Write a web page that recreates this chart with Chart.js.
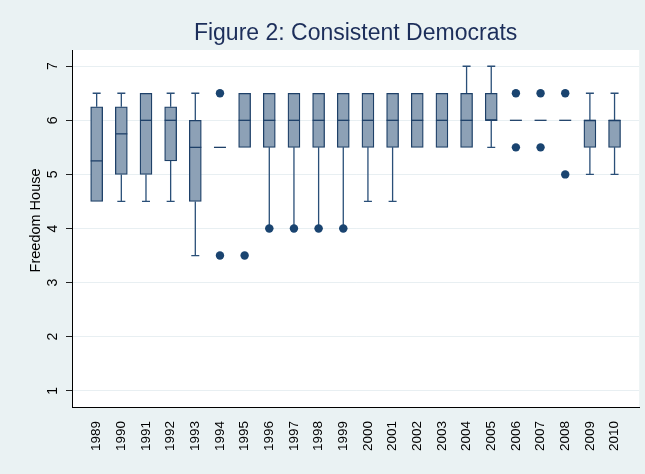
<!DOCTYPE html>
<html>
<head>
<meta charset="utf-8">
<script src="https://cdn.jsdelivr.net/npm/chart.js@4"></script>
<style>
  html, body { margin: 0; padding: 0; background: #eaf2f3; }
</style>
</head>
<body>
<canvas id="fhChart" width="645" height="474"></canvas>
<script>
// Freedom House score by year, consistent democrats (box plot summary)
const years = [1989, 1990, 1991, 1992, 1993, 1994, 1995, 1996, 1997, 1998, 1999,
  2000, 2001, 2002, 2003, 2004, 2005, 2006, 2007, 2008, 2009, 2010];
const lowerWhisker = [4.5, 4.5, 4.5, 4.5, 3.5, 5.5, 5.5, 4, 4, 4, 4,
  4.5, 4.5, 5.5, 5.5, 5.5, 5.5, 6, 6, 6, 5, 5];
const lowerQuartile = [4.5, 5, 5, 5.25, 4.5, 5.5, 5.5, 5.5, 5.5, 5.5, 5.5,
  5.5, 5.5, 5.5, 5.5, 5.5, 6, 6, 6, 6, 5.5, 5.5];
const medians = [5.25, 5.75, 6, 6, 5.5, 5.5, 6, 6, 6, 6, 6,
  6, 6, 6, 6, 6, 6, 6, 6, 6, 6, 6];
const upperQuartile = [6.25, 6.25, 6.5, 6.25, 6, 5.5, 6.5, 6.5, 6.5, 6.5, 6.5,
  6.5, 6.5, 6.5, 6.5, 6.5, 6.5, 6, 6, 6, 6, 6];
const upperWhisker = [6.5, 6.5, 6.5, 6.5, 6.5, 5.5, 6.5, 6.5, 6.5, 6.5, 6.5,
  6.5, 6.5, 6.5, 6.5, 7, 7, 6, 6, 6, 6.5, 6.5];
const outlierYears = [1994, 1994, 1995, 1996, 1997, 1998, 1999, 2006, 2006, 2007, 2007, 2008, 2008];
const outlierValues = [6.5, 3.5, 3.5, 4, 4, 4, 4, 6.5, 5.5, 6.5, 5.5, 6.5, 5];
const yTicks = [1, 2, 3, 4, 5, 6, 7];

const boxFill = "#8da1b6";
const boxLine = "#1e4068";
const whiskerLine = "#2a4f78";
const dotColor = "#1a4470";
const boxWidth = 12;
const capWidth = 8;
const fontFamily = "'Liberation Sans', Arial, Helvetica, sans-serif";

// white plot region on the light blue page
const plotBackground = {
  id: "plotBackground",
  beforeDraw(chart) {
    const { ctx, chartArea } = chart;
    ctx.save();
    ctx.fillStyle = "#ffffff";
    ctx.fillRect(chartArea.left, chartArea.top, chartArea.right - chartArea.left, chartArea.bottom - chartArea.top);
    ctx.restore();
  },
};

// whiskers under the boxes, medians on top
const boxParts = {
  id: "boxParts",
  beforeDatasetsDraw(chart) {
    const { ctx } = chart;
    const x = chart.scales.x;
    const y = chart.scales.y;
    ctx.save();
    ctx.strokeStyle = whiskerLine;
    ctx.lineWidth = 1.3;
    const whisker = (px, from, to) => {
      if (from === to) return;
      const y0 = y.getPixelForValue(from);
      const y1 = y.getPixelForValue(to);
      ctx.beginPath();
      ctx.moveTo(px, y0);
      ctx.lineTo(px, y1);
      ctx.moveTo(px - capWidth / 2, y1);
      ctx.lineTo(px + capWidth / 2, y1);
      ctx.stroke();
    };
    years.forEach((yr, i) => {
      const px = x.getPixelForValue(yr);
      whisker(px, lowerQuartile[i], lowerWhisker[i]);
      whisker(px, upperQuartile[i], upperWhisker[i]);
    });
    ctx.restore();
  },
  afterDatasetsDraw(chart) {
    const { ctx } = chart;
    const x = chart.scales.x;
    const y = chart.scales.y;
    ctx.save();
    ctx.strokeStyle = boxLine;
    ctx.lineWidth = 1.3;
    years.forEach((yr, i) => {
      const px = x.getPixelForValue(yr);
      const py = y.getPixelForValue(medians[i]);
      ctx.beginPath();
      ctx.moveTo(px - boxWidth / 2, py);
      ctx.lineTo(px + boxWidth / 2, py);
      ctx.stroke();
    });
    ctx.restore();
  },
};

const ctx = document.getElementById("fhChart").getContext("2d");
new Chart(ctx, {
  type: "bar",
  data: {
    datasets: [
      {
        label: "Boxes",
        data: years.map((yr, i) => ({ x: yr, y: [lowerQuartile[i], upperQuartile[i]] })),
        backgroundColor: boxFill,
        borderColor: boxLine,
        borderWidth: 1.3,
        borderSkipped: false,
        barThickness: boxWidth,
      },
      {
        type: "scatter",
        label: "Outside values",
        data: outlierYears.map((yr, i) => ({ x: yr, y: outlierValues[i] })),
        backgroundColor: dotColor,
        borderWidth: 0,
        pointRadius: 4.2,
      },
    ],
  },
  options: {
    responsive: false,
    animation: false,
    layout: { padding: { left: 0, right: 4, top: 0, bottom: 0 } },
    plugins: {
      legend: { display: false },
      tooltip: { enabled: false },
      title: {
        display: true,
        text: "Figure 2: Consistent Democrats",
        fullSize: false,
        color: "#1c2e5a",
        font: { family: fontFamily, size: 23, weight: "normal" },
        padding: { top: 20, bottom: 2.4 },
      },
    },
    scales: {
      x: {
        type: "linear",
        min: 1988,
        max: 2011,
        offset: false,
        afterBuildTicks: (s) => { s.ticks = years.map((v) => ({ value: v })); },
        afterFit: (s) => { s.height = 67; },
        grid: { display: false, drawTicks: false },
        border: { display: true, color: "#000000", width: 1 },
        ticks: {
          autoSkip: false,
          minRotation: 90,
          maxRotation: 90,
          padding: 14,
          color: "#000000",
          font: { family: fontFamily, size: 13.5 },
          callback: (v) => String(v),
        },
      },
      y: {
        min: 0.7,
        max: 7.3,
        afterBuildTicks: (s) => { s.ticks = yTicks.map((v) => ({ value: v })); },
        afterFit: (s) => { s.width = 72; },
        grid: { color: "#e8eff2", lineWidth: 1, tickColor: "#222222", tickLength: 6 },
        border: { display: true, color: "#000000", width: 1 },
        ticks: {
          minRotation: 90,
          maxRotation: 90,
          crossAlign: "center",
          padding: 9,
          color: "#000000",
          font: { family: fontFamily, size: 14 },
          callback: (v) => String(v),
        },
        title: {
          display: true,
          text: "    Freedom House",
          color: "#000000",
          font: { family: fontFamily, size: 14.5 },
          padding: { top: 27, bottom: 0 },
        },
      },
    },
  },
  plugins: [plotBackground, boxParts],
});
</script>
</body>
</html>
